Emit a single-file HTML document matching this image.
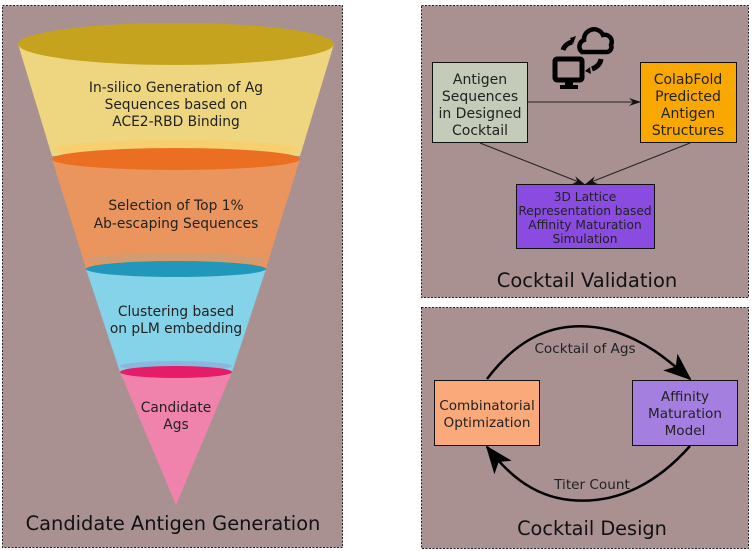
<!DOCTYPE html>
<html><head><style>
html,body{margin:0;padding:0;background:#fff;}
svg{display:block;font-family:"DejaVu Sans","Liberation Sans",sans-serif;}
</style></head><body>
<svg width="752" height="551" viewBox="0 0 752 551" xmlns="http://www.w3.org/2000/svg">
<defs>
<marker id="a1" markerWidth="12" markerHeight="8" refX="11" refY="4" orient="auto" markerUnits="userSpaceOnUse"><path d="M0,0 L12,4 L0,8 L4,4 z" fill="#111"/></marker>
<marker id="a2" markerWidth="28" markerHeight="22" refX="26" refY="11" orient="auto" markerUnits="userSpaceOnUse"><path d="M0,0 L28,11 L0,22 L7,11 z" fill="#000"/></marker>
</defs>
<rect x="2.5" y="5.5" width="340" height="542" fill="#a99192" stroke="#222" stroke-dasharray="2,1.5"/>
<rect x="421.5" y="5.5" width="327" height="292" fill="#a99192" stroke="#222" stroke-dasharray="2,1.5"/>
<rect x="421.5" y="307.5" width="327" height="241" fill="#a99192" stroke="#222" stroke-dasharray="2,1.5"/>
<path d="M18,44 L334,44 L300,156 L52,156 Z" fill="#eed680"/>
<ellipse cx="176" cy="44" rx="158" ry="21" fill="#c5a31f"/>
<ellipse cx="176" cy="149" rx="122" ry="9" fill="#f7cf6e"/>
<path d="M52,159 L300,159 L266,268 L86,268 Z" fill="#eb955e"/>
<ellipse cx="176" cy="159" rx="124" ry="11" fill="#ea6f22"/>
<ellipse cx="176" cy="259" rx="90" ry="6" fill="#d49a70"/>
<path d="M86,269 L266,269 L232,372 L120,372 Z" fill="#85d3e8"/>
<ellipse cx="176" cy="269" rx="90" ry="8" fill="#2198b9"/>
<ellipse cx="176" cy="366" rx="56" ry="5" fill="#8ab7dd"/>
<path d="M120,372 L232,372 L176,505 Z" fill="#ef83ab"/>
<ellipse cx="176" cy="372" rx="56" ry="6" fill="#e71c68"/>
<g font-size="13.8" fill="#222" text-anchor="middle">
<text x="176" y="92">In-silico Generation of Ag</text>
<text x="176" y="109">Sequences based on</text>
<text x="176" y="126">ACE2-RBD Binding</text>
<text x="176" y="210">Selection of Top 1%</text>
<text x="176" y="228">Ab-escaping Sequences</text>
<text x="176" y="316">Clustering based</text>
<text x="176" y="333">on pLM embedding</text>
<text x="176" y="412">Candidate</text>
<text x="176" y="429">Ags</text>
</g>
<text x="173" y="530" font-size="19.4" fill="#111" text-anchor="middle">Candidate Antigen Generation</text>
<rect x="432.5" y="62.5" width="95" height="80" fill="#c4cbb8" stroke="#111"/>
<rect x="640.5" y="62.5" width="96" height="80" fill="#f8a800" stroke="#111"/>
<rect x="516.5" y="184.5" width="138" height="64" fill="#8a4ce0" stroke="#111"/>
<line x1="527" y1="102" x2="640" y2="102" stroke="#222" marker-end="url(#a1)"/>
<line x1="480" y1="143" x2="584" y2="184" stroke="#222" marker-end="url(#a1)"/>
<line x1="690" y1="143" x2="586" y2="184" stroke="#222" marker-end="url(#a1)"/>
<g font-size="14" fill="#222" text-anchor="middle">
<text x="480" y="84">Antigen</text><text x="480" y="101">Sequences</text><text x="480" y="118">in Designed</text><text x="480" y="135">Cocktail</text>
<text x="688" y="84">ColabFold</text><text x="688" y="101">Predicted</text><text x="688" y="118">Antigen</text><text x="688" y="135">Structures</text>
</g>
<g font-size="12.2" fill="#222" text-anchor="middle">
<text x="585" y="201">3D Lattice</text><text x="585" y="215">Representation based</text><text x="585" y="229">Affinity Maturation</text><text x="585" y="243">Simulation</text>
</g>
<text x="587" y="287" font-size="19.5" fill="#111" text-anchor="middle">Cocktail Validation</text>
<g fill="none" stroke="#000" stroke-width="5">
<rect x="555" y="59" width="27" height="21" rx="2"/>
<path d="M563,50 Q565,44 572,42"/>
<path d="M601,59 Q600,66 592,69"/>
</g>
<rect x="565" y="80" width="8" height="6" fill="#000"/>
<rect x="560" y="85" width="18" height="4" fill="#000"/>
<path d="M570,38 l6,-2 l-3,8z M590,67 l-5,4 l6,3z" fill="#000"/>
<path d="M582,52 a7,7 0 0 1 2,-12 a10,10 0 0 1 19,-5 a7,7 0 0 1 8,10 a5,5 0 0 1 -4,7 z" fill="none" stroke="#000" stroke-width="4.5"/>
<rect x="434.5" y="380.5" width="105" height="65" fill="#f9a97a" stroke="#111"/>
<rect x="632.5" y="380.5" width="105" height="65" fill="#a57fe0" stroke="#111"/>
<path d="M487,379 C520,335 560,318 610,330 C645,340 668,360 690,379" fill="none" stroke="#000" stroke-width="2.5" marker-end="url(#a2)"/>
<path d="M690,446 C660,480 620,505 570,500 C530,496 505,470 487,447" fill="none" stroke="#000" stroke-width="2.5" marker-end="url(#a2)"/>
<g font-size="13.6" fill="#222" text-anchor="middle">
<text x="487" y="410">Combinatorial</text><text x="487" y="427">Optimization</text>
<text x="685" y="401">Affinity</text><text x="685" y="418">Maturation</text><text x="685" y="435">Model</text>
<text x="585" y="353">Cocktail of Ags</text>
<text x="592" y="489">Titer Count</text>
</g>
<text x="592" y="535" font-size="19.3" fill="#111" text-anchor="middle">Cocktail Design</text>
</svg>
</body></html>
